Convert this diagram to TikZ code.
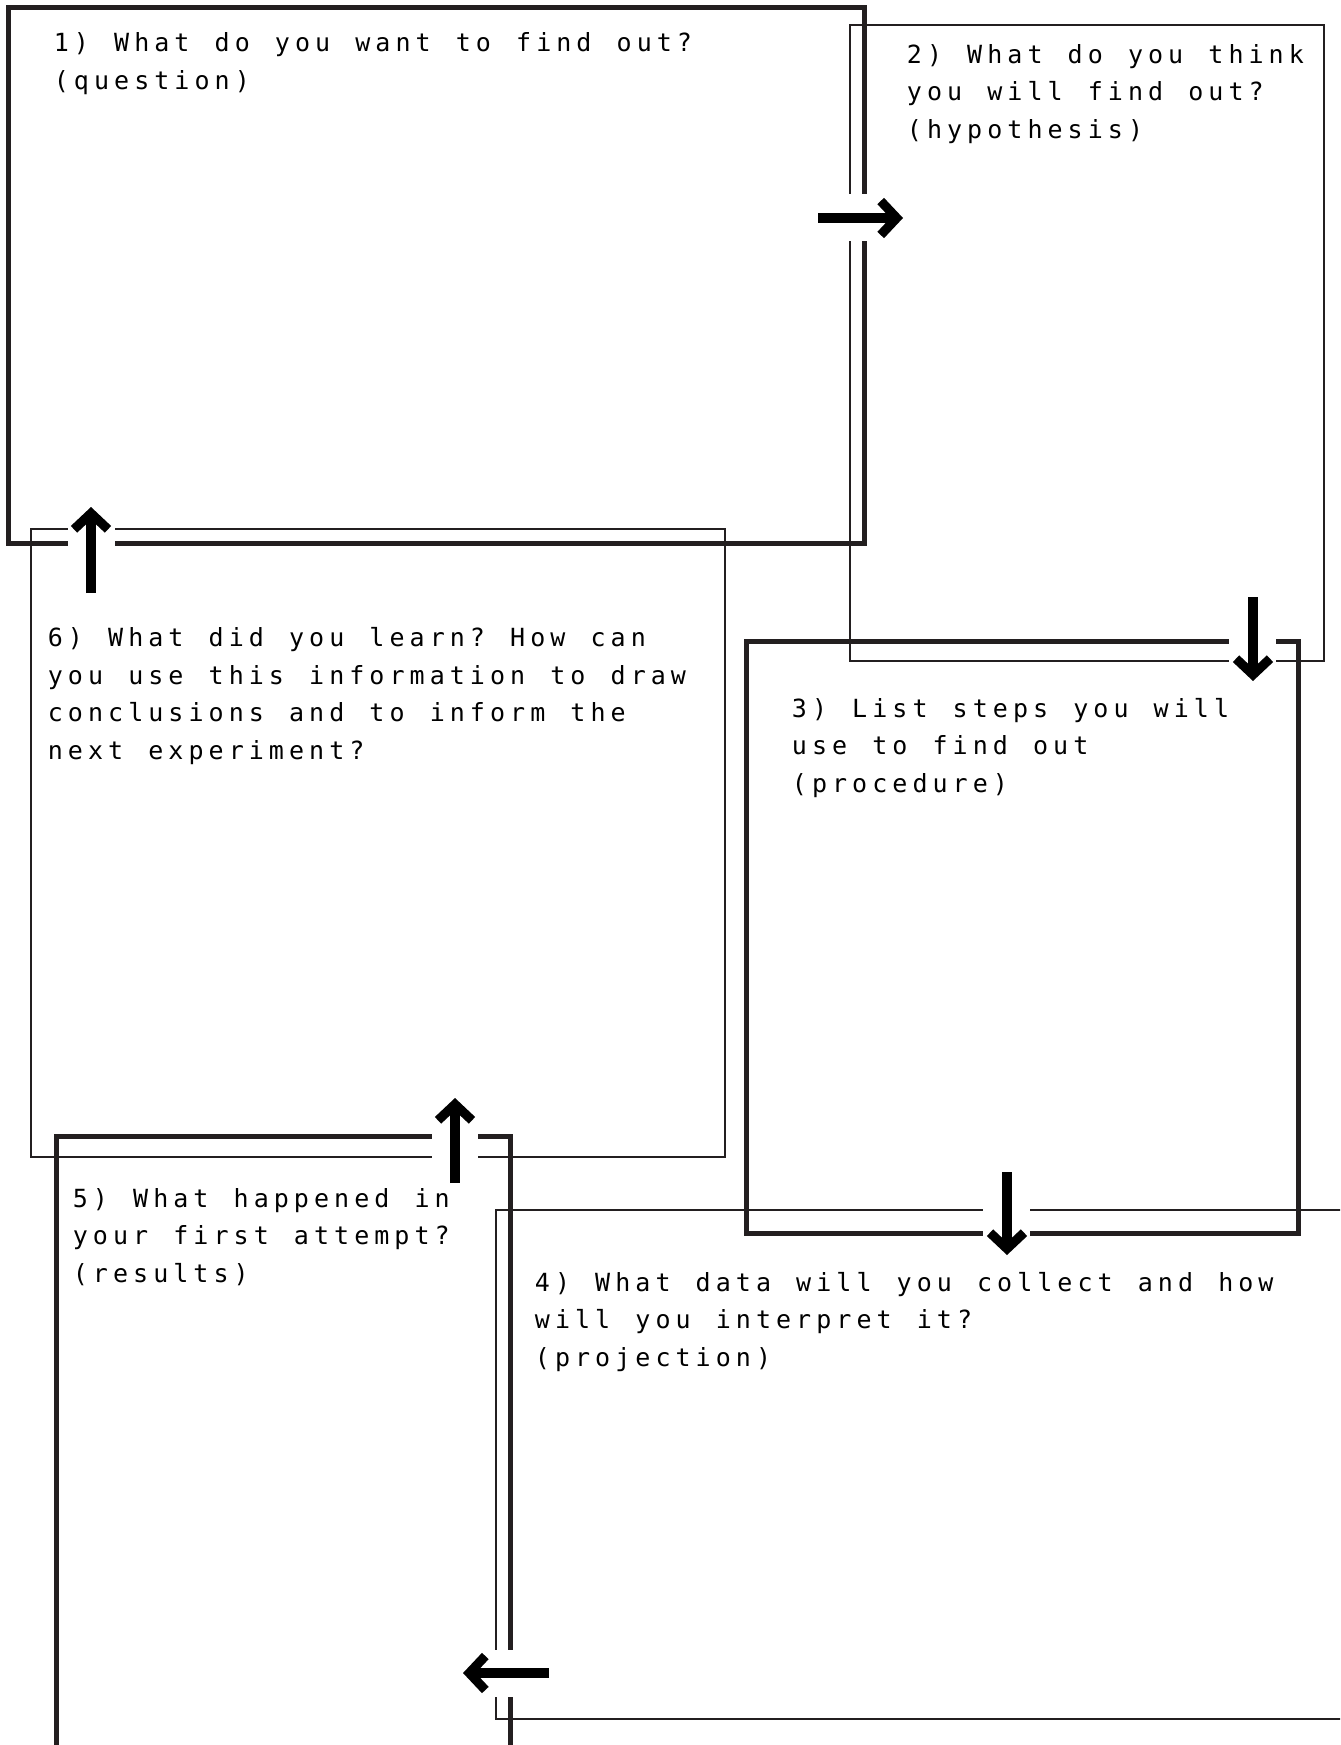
\documentclass[tikz,border=0pt]{standalone}
\usepackage{fontspec}
\newfontfamily\boxfont{DejaVu Sans Mono}
\usetikzlibrary{arrows.meta}
\definecolor{linegray}{HTML}{231F20}
\ExplSyntaxOn
\NewDocumentCommand\cells{m}{\str_map_inline:nn{#1}{\makebox[10.05pt][c]{##1}}}
\ExplSyntaxOff
\tikzset{
  thinbox/.style={draw=linegray, line width=1.2pt},
  thickbox/.style={draw=linegray, line width=2.5pt},
  prompt/.style={anchor=base west, inner sep=0pt, align=left,
    font={\boxfont\fontsize{12.5}{18.75}\selectfont}},
  flow/.style={line width=4.6pt, -{Straight Barb[length=8pt,width=17pt]}},
  gap/.style={fill=white},
}
\begin{document}
\begin{tikzpicture}[x=0.5pt,y=-0.5pt]
        \useasboundingbox (0,0) rectangle (1340,1745);
        \clip (0,0) rectangle (1340,1745);
        %% boxes
        \draw[thinbox] (31,529) rectangle (725,1157);
        \draw[thickbox] (8,7) rectangle (864,543);
        \draw[thinbox] (850,25) rectangle (1324,661);
        \draw[thickbox] (746,641) rectangle (1298,1233);
        \draw[thinbox] (496,1210) rectangle (1380,1719);
        \draw[thickbox] (56,1136) rectangle (510,1790);
        %% prompts (anchored on the last line)
        \node[prompt] (question) at (51,89) {\cells{1) What do you want to find out?}\\\cells{(question)}};
        \node[prompt] (hypothesis) at (904,138) {\cells{2) What do you think}\\\cells{you will find out?}\\\cells{(hypothesis)}};
        \node[prompt] (procedure) at (789,792) {\cells{3) List steps you will}\\\cells{use to find out}\\\cells{(procedure)}};
        \node[prompt] (projection) at (532,1366) {\cells{4) What data will you collect and how}\\\cells{will you interpret it?}\\\cells{(projection)}};
        \node[prompt] (results) at (70,1282) {\cells{5) What happened in}\\\cells{your first attempt?}\\\cells{(results)}};
        \node[prompt] (learn) at (45,759) {\cells{6) What did you learn? How can}\\\cells{you use this information to draw}\\\cells{conclusions and to inform the}\\\cells{next experiment?}};
        %% arrows
        \coordinate (q-out) at (818,218);
        \coordinate (h-in) at (903,218);
        \coordinate (h-out) at (1253,597);
        \coordinate (p-in) at (1253,681);
        \coordinate (p-out) at (1007,1172);
        \coordinate (d-in) at (1007,1255);
        \coordinate (d-out) at (549,1673);
        \coordinate (r-in) at (463,1673);
        \coordinate (r-out) at (455,1183);
        \coordinate (l-in) at (455,1098);
        \coordinate (l-out) at (91,593);
        \coordinate (q-in) at (91,507);
        \fill[gap] ([shift={(0,-24)}]q-out) rectangle ([shift={(0,23)}]h-in);
        \draw[flow] (q-out) -- (h-in);
        \fill[gap] ([shift={(-24,0)}]h-out) rectangle ([shift={(23,0)}]p-in);
        \draw[flow] (h-out) -- (p-in);
        \fill[gap] ([shift={(-24,0)}]p-out) rectangle ([shift={(23,0)}]d-in);
        \draw[flow] (p-out) -- (d-in);
        \fill[gap] ([shift={(0,-23)}]d-out) rectangle ([shift={(0,24)}]r-in);
        \draw[flow] (d-out) -- (r-in);
        \fill[gap] ([shift={(-23,0)}]r-out) rectangle ([shift={(23,0)}]l-in);
        \draw[flow] (r-out) -- (l-in);
        \fill[gap] ([shift={(-23,0)}]l-out) rectangle ([shift={(24,0)}]q-in);
        \draw[flow] (l-out) -- (q-in);
\end{tikzpicture}
\end{document}
